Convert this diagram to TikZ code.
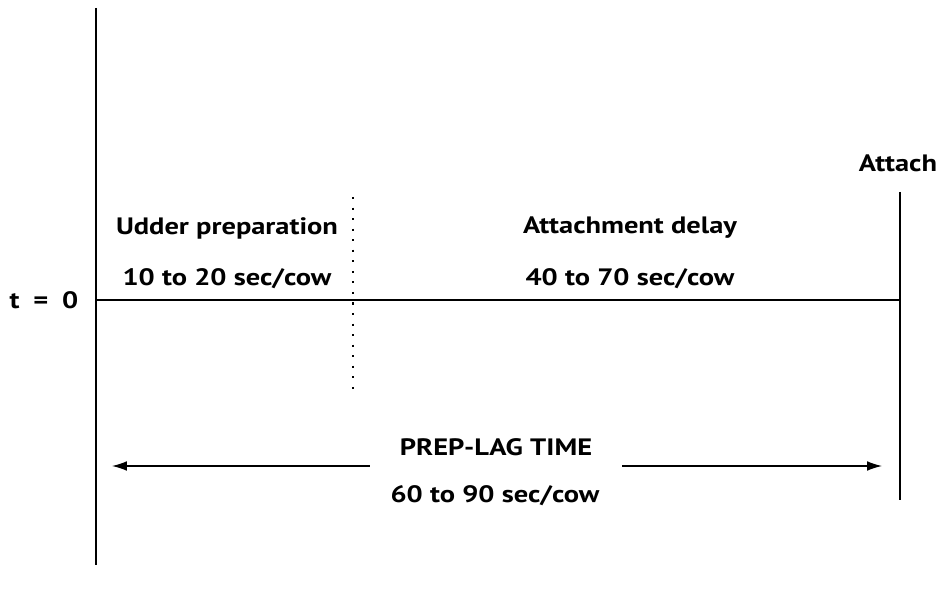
\documentclass[tikz,border=0pt]{standalone}
\usepackage{fontspec}
\setmainfont{PT Sans}[FakeStretch=1.2]
\usetikzlibrary{arrows.meta}
\tikzset{>={Latex[length=8.5pt,width=5.5pt]}}
\tikzset{lbl/.style={font=\bfseries\fontsize{13.5}{16}\selectfont, inner sep=0pt},
  timeline/.style={line width=0.7pt}}

\begin{document}
\begin{tikzpicture}[x=0.02cm,y=-0.02cm]
    \useasboundingbox (0,0) rectangle (941,598);
    \coordinate (axtop) at (96,8);
    \coordinate (axbot) at (96,565);
    \coordinate (origin) at (96,300);
    \coordinate (attend) at (900,300);
    \coordinate (atttop) at (900,192);
    \coordinate (attbot) at (900,500);
    \coordinate (preptop) at (353,197);
    \coordinate (prepbot) at (353,395);
    \coordinate (lagstart) at (112,466);
    \coordinate (lagend) at (882,466);
    \draw[timeline] (axtop) -- (axbot);
    \draw[timeline] (origin) -- (attend);
    \draw[timeline] (atttop) -- (attbot);
    \draw[line width=0.9pt, dash pattern=on 1.2pt off 4.8pt] (preptop) -- (prepbot);
    \node[lbl] (tzero) at (44,300) {t \;=\; 0};
    \node[lbl] (attach) at (898,163) {Attach};
    \node[lbl] (udder) at (227,228) {Udder preparation};
    \node[lbl] (udderrate) at (227,279) {10 to 20 sec/cow};
    \node[lbl] (delay) at (630,228) {Attachment delay};
    \node[lbl] (delayrate) at (630,279) {40 to 70 sec/cow};
    \node[lbl] (lag) at (496,447) {PREP-LAG TIME};
    \node[lbl] (lagrate) at (495,496) {60 to 90 sec/cow};
    \node[minimum width=252*0.02cm, inner sep=0pt] (laggap) at (496,466) {};
    \draw[timeline,->] (laggap.west) -- (lagstart);
    \draw[timeline,->] (laggap.east) -- (lagend);
  \end{tikzpicture}
\end{document}
